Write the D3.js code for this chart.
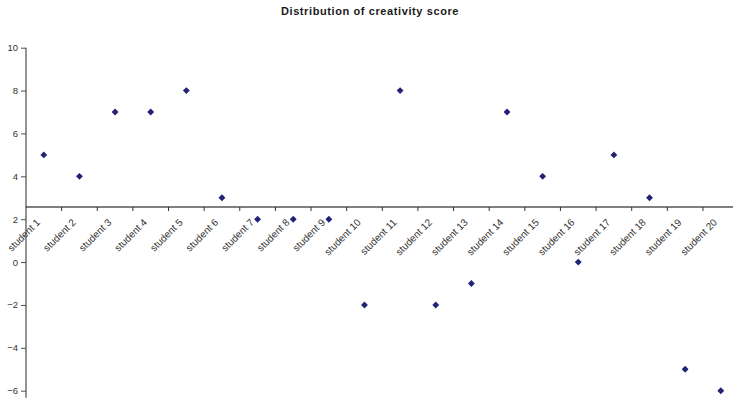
<!DOCTYPE html>
<html>
<head>
<meta charset="utf-8">
<script src="https://cdn.jsdelivr.net/npm/d3@7"></script>
<style>
  html, body { margin: 0; padding: 0; background: #fff; }
  svg { display: block; font-family: "Liberation Sans", Arial, sans-serif; }
</style>
</head>
<body>
<svg id="chart" width="733" height="401"></svg>
<script>
// Creativity score per student
const students = ["student 1","student 2","student 3","student 4","student 5","student 6","student 7","student 8","student 9","student 10",
                  "student 11","student 12","student 13","student 14","student 15","student 16","student 17","student 18","student 19","student 20"];
const scores = [5, 4, 7, 7, 8, 3, 2, 2, 2, -2, 8, -2, -1, 7, 4, 0, 5, 3, -5, -6];
const yTicks = [-6, -4, -2, 0, 2, 4, 6, 8, 10];
const chartTitle = "Distribution of creativity score";
const categoryAxisCrossing = 2.57;

const svg = d3.select("#chart");
const plotLeft = 26, plotRight = 738.6, plotTop = 47.7, plotBottom = 390.7;

const x = d3.scaleBand().domain(students).range([plotLeft, plotRight]).padding(0);
const y = d3.scaleLinear().domain([-6, 10]).range([plotBottom, plotTop]);

// Title
svg.append("text")
  .attr("x", 370).attr("y", 15)
  .attr("text-anchor", "middle")
  .attr("font-size", 11).attr("font-weight", "bold")
  .attr("letter-spacing", 0.6)
  .attr("fill", "#1a1a1a")
  .text(chartTitle);

// Value axis
const yAxis = svg.append("g")
  .attr("transform", `translate(${plotLeft},0)`)
  .call(d3.axisLeft(y).tickValues(yTicks).tickSize(5).tickPadding(3).tickFormat(d3.format("d")));
yAxis.select(".domain").remove();
yAxis.selectAll(".tick line").attr("stroke", "#4d4d4d");
yAxis.selectAll(".tick text").attr("font-size", 9.5).attr("fill", "#333")
  .attr("font-family", "Liberation Sans, Arial, sans-serif");
svg.append("line")
  .attr("x1", plotLeft).attr("x2", plotLeft)
  .attr("y1", plotTop).attr("y2", plotBottom + 7)
  .attr("stroke", "#4d4d4d").attr("stroke-width", 1.2);

// Category axis, crossing the value axis above 2
const axisY = y(categoryAxisCrossing);
const boundaries = students.map(s => x(s)).concat([plotRight]);
svg.append("line")
  .attr("x1", plotLeft).attr("x2", plotRight)
  .attr("y1", axisY).attr("y2", axisY)
  .attr("stroke", "#000").attr("stroke-width", 1.2);
svg.selectAll("line.xtick").data(boundaries.slice(1)).join("line")
  .attr("class", "xtick")
  .attr("x1", d => d).attr("x2", d => d)
  .attr("y1", axisY).attr("y2", axisY + 4)
  .attr("stroke", "#333");
svg.selectAll("text.xlabel").data(students).join("text")
  .attr("class", "xlabel")
  .attr("text-anchor", "end")
  .attr("font-size", 10)
  .attr("fill", "#333")
  .attr("transform", d => `translate(${x(d) + x.bandwidth() / 2 - 3},${axisY + 16}) rotate(-45)`)
  .text(d => d);

// Diamond markers
const diamond = d3.symbol().type(d3.symbolDiamond2).size(30);
svg.selectAll("path.pt").data(scores).join("path")
  .attr("class", "pt")
  .attr("d", diamond)
  .attr("transform", (d, i) => `translate(${x(students[i]) + x.bandwidth() / 2},${y(d)})`)
  .attr("fill", "#222277");
</script>
</body>
</html>
